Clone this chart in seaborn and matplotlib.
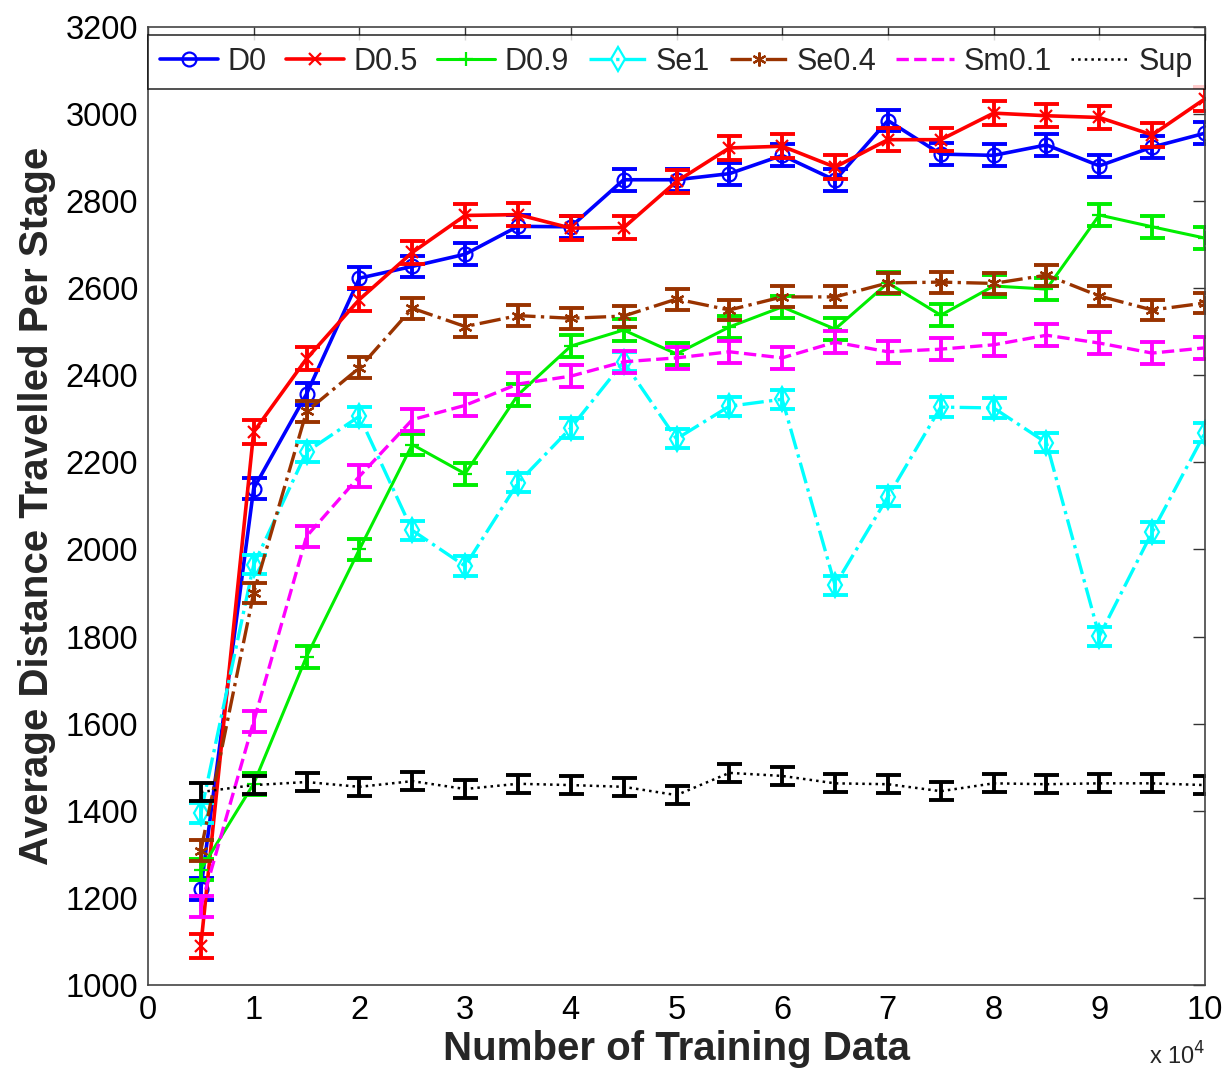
import matplotlib
matplotlib.use("Agg")
import matplotlib.pyplot as plt
import numpy as np
import pandas as pd
import seaborn as sns
from matplotlib.ticker import FuncFormatter, MultipleLocator

# training set sizes
n_train = [5000, 10000, 15000, 20000, 25000, 30000, 35000, 40000, 45000, 50000,
           55000, 60000, 65000, 70000, 75000, 80000, 85000, 90000, 95000, 100000]

d0 = [1220, 2140, 2357, 2623, 2650, 2678, 2742, 2741, 2849, 2849,
      2863, 2905, 2848, 2985, 2908, 2905, 2929, 2881, 2924, 2956]
d05 = [1090, 2270, 2438, 2574, 2682, 2767, 2769, 2738, 2739, 2845,
       2922, 2926, 2878, 2941, 2941, 3002, 2996, 2992, 2952, 3035]
d09 = [1265, 1462, 1754, 2000, 2241, 2174, 2355, 2467, 2504, 2449,
       2511, 2557, 2506, 2612, 2538, 2605, 2598, 2768, 2741, 2715]
se1 = [1395, 1965, 2224, 2306, 2044, 1962, 2153, 2279, 2431, 2254,
       2329, 2345, 1918, 2121, 2327, 2325, 2245, 1801, 2040, 2268]
se04 = [1308, 1900, 2317, 2417, 2554, 2512, 2537, 2531, 2536, 2575,
        2550, 2580, 2580, 2612, 2614, 2611, 2630, 2582, 2550, 2566]
sm01 = [1180, 1605, 2030, 2168, 2298, 2331, 2380, 2398, 2431, 2440,
        2454, 2440, 2476, 2454, 2460, 2470, 2492, 2474, 2451, 2463]
sup = [1443, 1459, 1466, 1455, 1468, 1450, 1462, 1459, 1455, 1436,
       1487, 1480, 1463, 1461, 1445, 1463, 1461, 1463, 1463, 1459]

# half-height of the error bars
err = {"D0": 25, "D0.5": 27, "D0.9": 25, "Se1": 22, "Se0.4": 24, "Sm0.1": 25, "Sup": 21}

series = {"D0": d0, "D0.5": d05, "D0.9": d09, "Se1": se1,
          "Se0.4": se04, "Sm0.1": sm01, "Sup": sup}

styles = {
    "D0":    dict(color="#0000ff", ls="-", marker="o", mfc="none", ms=10, lw=2.6),
    "D0.5":  dict(color="#ff0000", ls="-", marker="x", mfc="none", ms=8, lw=2.6),
    "D0.9":  dict(color="#00ee00", ls="-", marker="+", mfc="none", ms=10, lw=2.2),
    "Se1":   dict(color="#00ffff", ls="-.", marker="d", mfc="none", ms=12, lw=2.4),
    "Se0.4": dict(color="#993300", ls="-.", marker=(6, 2, 0), mfc="none", ms=10, lw=2.4),
    "Sm0.1": dict(color="#ff00ff", ls="--", marker=None, mfc="none", ms=10, lw=2.4),
    "Sup":   dict(color="#000000", ls=":", marker=None, mfc="none", ms=10, lw=1.8),
}

sns.set_style("white")
plt.rcParams["font.family"] = ["Liberation Sans", "DejaVu Sans"]

fig = plt.figure(figsize=(12.28, 10.76), dpi=100)
ax = fig.add_axes([0.1205, 0.0846, 0.8608, 0.8904])

for name, vals in series.items():
    st = styles[name]
    df = pd.DataFrame({"n": n_train, "dist": vals})
    sns.lineplot(data=df, x="n", y="dist", ax=ax, label=name,
                 color=st["color"], linestyle=st["ls"], linewidth=st["lw"],
                 marker=st["marker"], markersize=st["ms"], markerfacecolor=st["mfc"],
                 markeredgecolor=st["color"], markeredgewidth=1.6)
    ax.errorbar(n_train, vals, yerr=err[name], fmt="none", ecolor=st["color"],
                elinewidth=2.8, capsize=9, capthick=2.8)

ax.set_xlim(0, 100000)
ax.set_ylim(1000, 3200)
ax.xaxis.set_major_locator(MultipleLocator(10000))
ax.yaxis.set_major_locator(MultipleLocator(200))
ax.xaxis.set_major_formatter(FuncFormatter(lambda v, p: f"{v / 1e4:g}"))
ax.tick_params(direction="in", length=9, width=1, top=True, right=True,
               labelsize=23.5, colors="#333333", labelcolor="black", pad=7)
for sp in ax.spines.values():
    sp.set_color("#444444")
    sp.set_linewidth(1.2)

ax.set_xlabel("Number of Training Data", fontsize=29, fontweight="bold", labelpad=3)
ax.set_ylabel("Average Distance Travelled Per Stage", fontsize=29, fontweight="bold", labelpad=7)
ax.text(1.0, -0.074, "x 10$^{4}$", transform=ax.transAxes, ha="right", va="center",
        fontsize=17)

leg = ax.legend(loc="upper left", ncol=7, fontsize=22, handlelength=1.9,
                handletextpad=0.3, columnspacing=0.3, borderpad=0.4,
                borderaxespad=0.0, frameon=True, fancybox=False, mode="expand",
                bbox_to_anchor=(0.0, 0.0, 1.0, 0.9917))
leg.get_frame().set_edgecolor("black")
leg.get_frame().set_linewidth(1.2)

fig.savefig("out.png", dpi=100)
